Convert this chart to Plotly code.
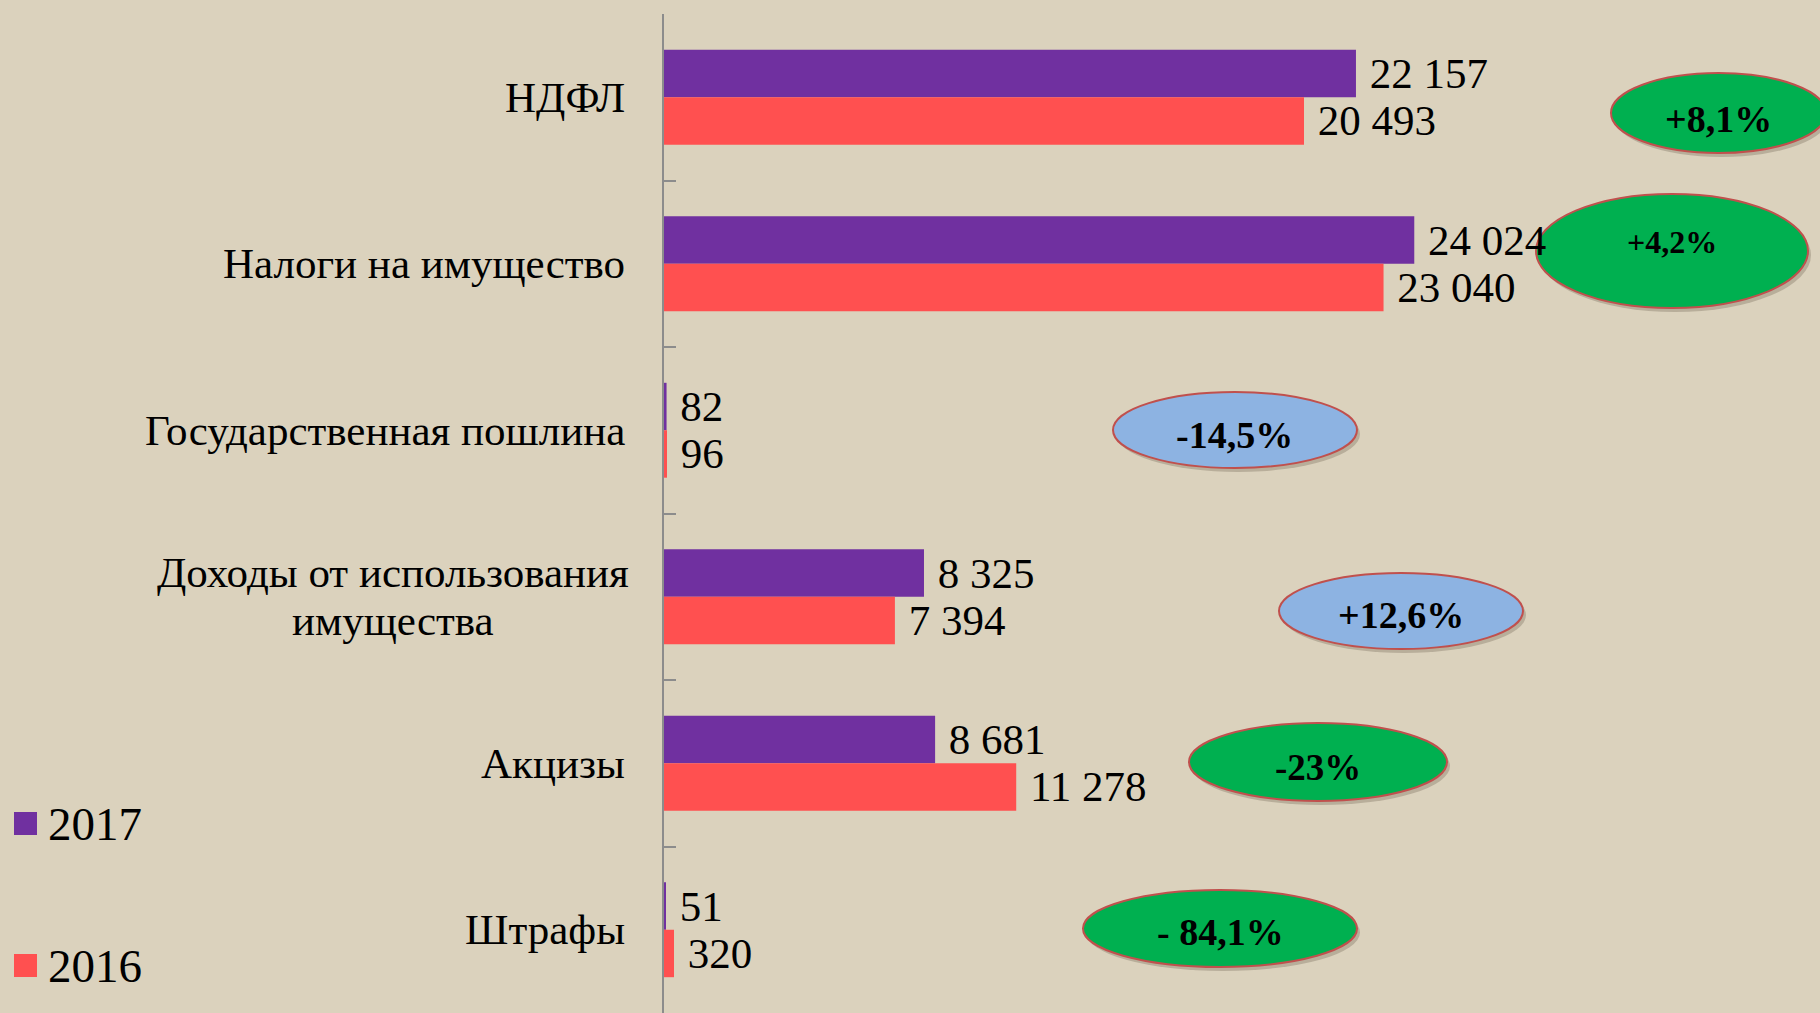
import plotly.graph_objects as go

categories = ["НДФЛ", "Налоги на имущество", "Государственная пошлина",
              "Доходы от использования имущества", "Акцизы", "Штрафы"]
category_labels = ["НДФЛ", "Налоги на имущество", "Государственная пошлина",
                   "Доходы от использования<br>имущества", "Акцизы", "Штрафы"]
values_2017 = [22157, 24024, 82, 8325, 8681, 51]
values_2016 = [20493, 23040, 96, 7394, 11278, 320]
series_names = ["2017", "2016"]
change_labels = ["+8,1%", "+4,2%", "-14,5%", "+12,6%", "-23%", "- 84,1%"]

W, H = 1820, 1013
ML, MR, MT, MB = 664, 0, 14, 0
PW, PH = W - ML - MR, H - MT - MB
FONT = "Liberation Serif, Times New Roman, serif"
PURPLE = "#7030A0"
RED = "#FF5050"
GREEN = "#00B050"
BLUE = "#8DB3E2"
BORDER = "#C0504D"
BG = "#DBD2BD"
LABEL_SIZE = 43


def px(x):
    return (x - ML) / PW


def py(y):
    return 1 - (y - MT) / PH


fig = go.Figure()
for name, vals, col in [(series_names[0], values_2017, PURPLE),
                        (series_names[1], values_2016, RED)]:
    fig.add_trace(go.Bar(
        y=categories, x=vals, name=name, orientation="h",
        marker=dict(color=col, line=dict(width=0)),
        texttemplate="\u00a0%{x:,}", textposition="outside",
        textfont=dict(family=FONT, size=LABEL_SIZE, color="black"),
        constraintext="none", cliponaxis=False, showlegend=False,
    ))

shapes = []
annotations = []

# category labels (multi-line labels are stacked line by line, centred)
LINE_STEP = 48
for cat, lab in zip(categories, category_labels):
    lines = lab.split("<br>")
    n = len(lines)
    for i, line in enumerate(lines):
        annotations.append(dict(
            x=px(627) if n == 1 else px(393), xref="paper", y=cat, yref="y",
            text=line,
            xanchor="right" if n == 1 else "center",
            yanchor="middle", showarrow=False,
            yshift=-(i - (n - 1) / 2) * LINE_STEP,
            font=dict(family=FONT, size=LABEL_SIZE, color="black"),
        ))

# change ellipses: (x0, x1, y0, y1, fill, text_x, text_y, fontsize)
ellipse_specs = [
    (1611, 1826, 73, 153, GREEN, 1718, 119, 38),
    (1536, 1808, 194, 308, GREEN, 1672, 242, 32),
    (1113, 1357, 392, 468, BLUE, 1234, 435, 38),
    (1279, 1523, 573, 649, BLUE, 1401, 615, 38),
    (1189, 1447, 723, 801, GREEN, 1318, 767, 37),
    (1083, 1357, 890, 967, GREEN, 1220, 932, 38),
]
for lab, (x0, x1, y0, y1, fill, tx, ty, fs) in zip(change_labels, ellipse_specs):
    shapes.append(dict(type="circle", xref="paper", yref="paper", layer="below",
                       x0=px(x0 + 3), x1=px(x1 + 3), y0=py(y1 + 4), y1=py(y0 + 4),
                       fillcolor="rgba(60,45,30,0.22)", line=dict(width=0)))
    shapes.append(dict(type="circle", xref="paper", yref="paper", layer="below",
                       x0=px(x0), x1=px(x1), y0=py(y1), y1=py(y0),
                       fillcolor=fill, line=dict(color=BORDER, width=2)))
    annotations.append(dict(
        x=px(tx), y=py(ty), xref="paper", yref="paper", text="<b>%s</b>" % lab,
        showarrow=False, xanchor="center", yanchor="middle",
        font=dict(family=FONT, size=fs, color="black"),
    ))

# legend
for name, col, ytop in [(series_names[0], PURPLE, 812), (series_names[1], RED, 954)]:
    shapes.append(dict(type="rect", xref="paper", yref="paper",
                       x0=px(14), x1=px(37), y0=py(ytop + 23), y1=py(ytop),
                       fillcolor=col, line=dict(width=0)))
    annotations.append(dict(
        x=px(46), y=py(ytop + 12), xref="paper", yref="paper", text=name,
        showarrow=False, xanchor="left", yanchor="middle",
        font=dict(family=FONT, size=47, color="black"),
    ))

fig.update_layout(
    width=W, height=H,
    margin=dict(l=ML, r=MR, t=MT, b=MB, pad=0),
    paper_bgcolor=BG, plot_bgcolor="rgba(0,0,0,0)",
    barmode="group", bargap=0.43, bargroupgap=0,
    separators=", ",
    shapes=shapes, annotations=annotations,
    showlegend=False,
    font=dict(family=FONT),
    xaxis=dict(visible=False, range=[0, PW / 0.03123], fixedrange=True),
    yaxis=dict(autorange="reversed", showticklabels=False, showgrid=False,
               zeroline=False, showline=True, linecolor="#8C8C8C", linewidth=2,
               ticks="inside", tickson="boundaries", ticklen=12,
               tickcolor="#8C8C8C", tickwidth=2),
)

fig.write_html(
    "out.html",
    config={"displayModeBar": False},
    post_script=["document.body.style.margin='0';"
                 "document.body.style.overflow='hidden';"],
)
